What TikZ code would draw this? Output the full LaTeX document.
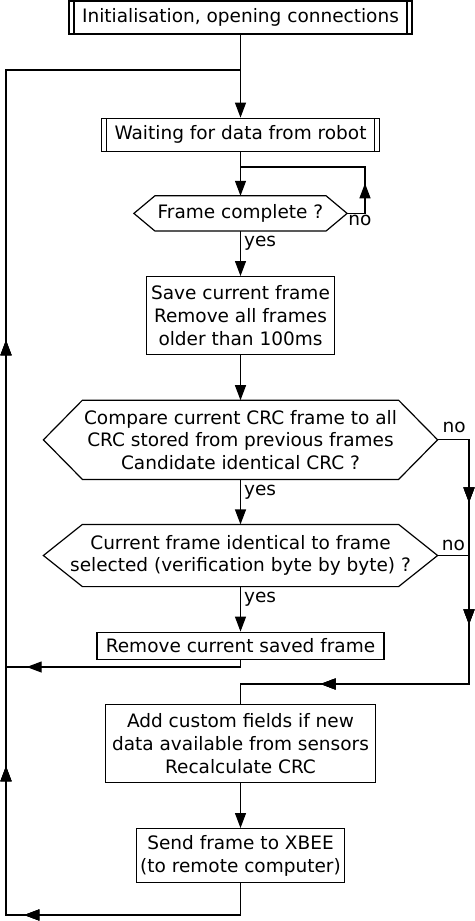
\documentclass[tikz,border=0pt]{standalone}
\usepackage{fontspec}
\setmainfont{DejaVu Sans}
\usetikzlibrary{positioning,arrows.meta,decorations.markings}

\tikzset{
  box/.style={draw,rectangle,align=center,inner sep=2pt},
  sub/.style={box,minimum height=33pt,
    path picture={\draw ([xshift=5pt]path picture bounding box.north west) -- ([xshift=5pt]path picture bounding box.south west);
                  \draw ([xshift=-5pt]path picture bounding box.north east) -- ([xshift=-5pt]path picture bounding box.south east);}},
  decision/.style={rectangle,align=center,inner sep=0pt,
    append after command={\pgfextra{\draw (\tikzlastnode.west) -- ([xshift=#1]\tikzlastnode.north west) -- ([xshift=-#1]\tikzlastnode.north east)
      -- (\tikzlastnode.east) -- ([xshift=-#1]\tikzlastnode.south east) -- ([xshift=#1]\tikzlastnode.south west) -- cycle;}}},
  arrowat/.style={postaction={decorate},decoration={markings,mark=at position #1 with {\arrow{Triangle[length=15pt,width=11pt]}}}}
}

\begin{document}
\begin{tikzpicture}[x=1pt,y=-1pt,line width=1.2pt,>={Triangle[length=15pt,width=11pt]},
    font=\fontsize{18.5}{22.7}\selectfont]
      \useasboundingbox (0,0) rectangle (474,921);

      \node[sub,minimum width=343pt] (1) at (240.5,17.5) {Initialisation, opening connections};
      \node[sub,below=83pt of 1,minimum width=278pt] (2) {Waiting for data from robot};
      \node[decision=21pt,below=44pt of 2,minimum width=212pt,minimum height=34pt] (3) {Frame complete ?};
      \node[box,below=45pt of 3,minimum width=188pt,minimum height=78pt] (4) {Save current frame\\Remove all frames\\older than 100ms};
      \node[decision=39pt,below=45pt of 4,minimum width=393pt,minimum height=78pt] (5) {Compare current CRC frame to all\\CRC stored from previous frames\\Candidate identical CRC ?};
      \node[decision=39pt,below=45pt of 5,minimum width=393pt,minimum height=61pt] (6) {Current frame identical to frame\\selected (verification byte by byte) ?};
      \node[box,below=45pt of 6,minimum width=287pt,minimum height=27pt] (7) {Remove current saved frame};
      \node[box,below=44pt of 7,minimum width=270pt,minimum height=78pt] (8) {Add custom fields if new\\data available from sensors\\Recalculate CRC};
      \node[box,below=45pt of 8,minimum width=208pt,minimum height=54pt] (9) {Send frame to XBEE\\(to remote computer)};

      \coordinate (r1) at (365,167);
      \coordinate (r2) at (469,684);
      \coordinate (l1) at (6,667);
      \coordinate (lb) at (6,915);
      \coordinate (lt) at (6,70);

      \draw[->] (1) -- (2);
      \draw[->] (2) -- (3);
      \draw[->] (3) -- node[right,pos=0.28,inner sep=3pt] {yes} (4);
      \draw[->] (4) -- (5);
      \draw[->] (5) -- node[right,pos=0.28,inner sep=3pt] {yes} (6);
      \draw[->] (6) -- node[right,pos=0.28,inner sep=3pt] {yes} (7);
      \draw[->] (8) -- (9);

      \draw[arrowat=48pt] (3.east) -- node[below,pos=0.72,inner sep=1pt] {no} (3.east -| r1) -- (r1) -- (r1 -| 2.south);
      \draw[arrowat=94pt,arrowat=216pt,arrowat=424pt] (5.east) -- node[above=6pt,pos=0.53,inner sep=0pt] {no} (5.east -| r2) -- (r2) -- (r2 -| 8.north) -- (8.north);
      \draw (6.east) -- node[above=4.5pt,pos=0.5,inner sep=0pt] {no} (6.east -| r2);
      \draw[arrowat=221pt] (7.south) -- (7.south |- l1) -- (l1);
      \draw[arrowat=248pt,arrowat=415pt,arrowat=841pt] (9.south) -- (9.south |- lb) -- (lb) -- (lt) -- (lt -| 1.south);
    \end{tikzpicture}
\end{document}
